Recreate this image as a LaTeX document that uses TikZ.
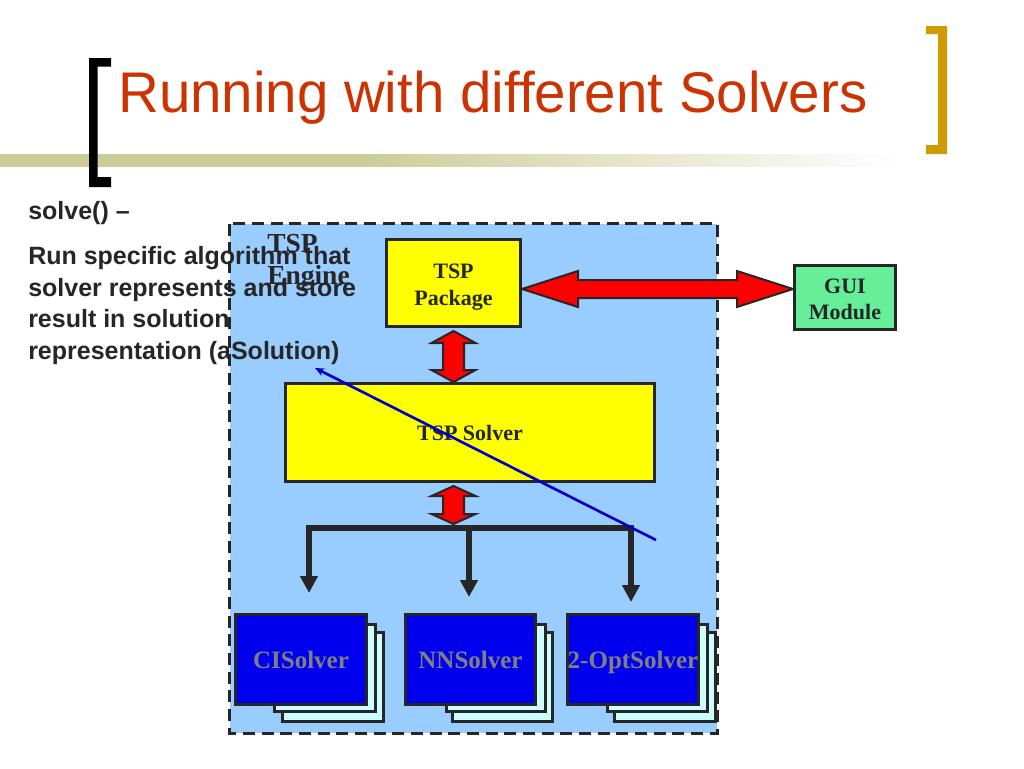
\documentclass[tikz,border=0pt]{standalone}
\usepackage{fontspec}
\setmainfont{Liberation Serif}
\newfontfamily\arialfont{Liberation Sans}
\usetikzlibrary{arrows.meta,calc}
\definecolor{titlered}{HTML}{CC3300}
\definecolor{gold}{HTML}{D09B00}
\definecolor{olive}{HTML}{CCCC99}
\definecolor{engblue}{HTML}{99CCFF}
\definecolor{boxline}{HTML}{262626}
\definecolor{yel}{HTML}{FFFF00}
\definecolor{guigreen}{HTML}{66EE99}
\definecolor{solvblue}{HTML}{0000EE}
\definecolor{cardcyan}{HTML}{CCFFFF}
\definecolor{txtgray}{HTML}{808080}
\definecolor{bodytext}{HTML}{262626}
\definecolor{linkblue}{HTML}{0000CC}
\pgfdeclarehorizontalshading{bandshade}{100bp}{color(0bp)=(olive); color(45bp)=(olive); color(75bp)=(white); color(100bp)=(white)}
\tikzset{droptip/.tip={Triangle[width=12.75pt,length=12.75pt]}}
\begin{document}
\begin{tikzpicture}[x=0.75pt,y=-0.75pt,
  box/.style={draw=boxline, line width=2.25pt, inner sep=0pt},
  lbl/.style={inner sep=0pt, text=boxline, font=\bfseries\fontsize{16.5pt}{20pt}\selectfont},
  bodytxt/.style={anchor=base west, inner sep=0pt, text=bodytext, font=\arialfont\bfseries\fontsize{18.75pt}{22pt}\selectfont},
  engtxt/.style={anchor=base west, inner sep=0pt, text=boxline, font=\bfseries\fontsize{20.6pt}{24pt}\selectfont},
  solverbox/.style={box, fill=solvblue, minimum height=67.5pt, text=txtgray, text depth=0pt, font=\bfseries\fontsize{18.75pt}{22pt}\selectfont},
  card/.style={draw=boxline, fill=cardcyan, line width=2.25pt},
  blockarrow/.style={fill=red, draw=boxline, line width=1.5pt, line join=miter},
  busline/.style={draw=boxline, line width=4.5pt, line join=miter}
]
\fill[white] (0,0) rectangle (1024,768);
\useasboundingbox (0,0) rectangle (1024,768);

% title band
\shade[shading=bandshade] (0,154) rectangle (900,166);

% brackets
\fill[black] (89,58) -- (111,58) -- (111,66.5) -- (97.5,66.5) -- (97.5,177) -- (111,177) -- (111,187) -- (89,187) -- cycle;
\fill[gold] (947,26) -- (926,26) -- (926,34) -- (938,34) -- (938,145) -- (926,145) -- (926,154) -- (947,154) -- cycle;

% title
\node[anchor=base west, inner sep=0pt, text=titlered, font=\arialfont\fontsize{43pt}{50pt}\selectfont, xscale=0.985] (title) at (118,112) {Running with different Solvers};

% engine area
\node[fill=engblue, minimum width=365.25pt, minimum height=381.75pt, inner sep=0pt] (engine) at (473.5,478.5) {};

% left text
\node[bodytxt] (s0) at (28,219) {solve() –};
\node[bodytxt] (s1) at (28,264) {Run specific algorithm that};
\node[bodytxt] (s2) at (28,296) {solver represents and store};
\node[bodytxt] (s3) at (28,327) {result in solution};
\node[bodytxt] (s4) at (28,359) {representation (aSolution)};

\draw[boxline, line width=2.25pt, dash pattern=on 9pt off 5pt] (engine.north west) rectangle (engine.south east);

\node[engtxt] (engT) at (267,252) {TSP};
\node[engtxt] (engE) at (267,284) {Engine};

% boxes
\node[box, fill=yel, minimum width=100.5pt, minimum height=65.25pt] (pkg) at (453.5,283) {};
\node[lbl, anchor=base] (pkgA) at ($(pkg.center)+(0,-5)$) {TSP};
\node[lbl, anchor=base] (pkgB) at ($(pkg.center)+(0,22)$) {Package};

\node[box, fill=guigreen, minimum width=75.75pt, minimum height=48pt] (gui) at (845,297.5) {};
\node[lbl, anchor=base] (guiA) at ($(gui.center)+(0,-4.5)$) {GUI};
\node[lbl, anchor=base] (guiB) at ($(gui.center)+(0,21.5)$) {Module};

\node[box, fill=yel, minimum width=276.75pt, minimum height=73.5pt] (solver) at (470,432.5) {};
\node[lbl, anchor=base] (solverT) at ($(solver.center)+(0,8)$) {TSP Solver};

% horizontal double arrow
\coordinate (hl) at ($(pkg.east)+(0,6)$);
\coordinate (hr) at (gui.west |- hl);
\draw[blockarrow] (hl) -- ++(56,-18) -- ++(0,9) -- ($(hr)+(-56,-9)$) -- ++(0,-9) -- (hr) -- ++(-56,18) -- ++(0,-9) -- ($(hl)+(56,9)$) -- ++(0,9) -- cycle;

% vertical double arrow 1
\coordinate (v1t) at ($(pkg.south)+(0,3)$);
\coordinate (v1b) at (v1t |- solver.north);
\draw[blockarrow] (v1t) -- ++(22,12) -- ++(-11.5,0) -- ($(v1b)+(10.5,-12)$) -- ++(11.5,0) -- (v1b) -- ++(-22,-12) -- ++(11.5,0) -- ($(v1t)+(-10.5,12)$) -- ++(-11.5,0) -- cycle;

% bus coordinates
\coordinate (bl) at (309,528);
\coordinate (br) at (631,528);
\coordinate (bm) at (469,528);
\coordinate (d1) at (309,593);
\coordinate (d2) at (469,597);
\coordinate (d3) at (631,602);

% vertical double arrow 2
\coordinate (v2t) at ($(v1t |- solver.south)+(0,3)$);
\coordinate (v2b) at ($(v1t |- bl)+(0,-4)$);
\draw[blockarrow] (v2t) -- ++(22,10) -- ++(-11.5,0) -- ($(v2b)+(10.5,-10)$) -- ++(11.5,0) -- (v2b) -- ++(-22,-10) -- ++(11.5,0) -- ($(v2t)+(-10.5,10)$) -- ++(-11.5,0) -- cycle;

% bus and drops
\draw[busline, {droptip}-{droptip}] (d1) -- (bl) -- (br) -- (d3);
\draw[busline, -{droptip}] (bm) -- (d2);

% solver stacks
\draw[card] (282.5,632.5) rectangle (383.5,721.5);
\draw[card] (274.5,624.5) rectangle (375.5,711.5);
\node[solverbox, minimum width=98.25pt] (ci) at (301,659.5) {CISolver};

\draw[card] (452.5,632.5) rectangle (552.5,721.5);
\draw[card] (446.5,624.5) rectangle (545.5,711.5);
\node[solverbox, minimum width=97.5pt] (nn) at (470.5,659.5) {NNSolver};

\draw[card] (614.5,632.5) rectangle (715.5,721.5);
\draw[card] (607.5,624.5) rectangle (707.5,711.5);
\node[solverbox, minimum width=96.75pt] (opt) at (633,659.5) {2-OptSolver};

% blue pointer line
\coordinate (bs) at (656,540);
\coordinate (be) at (315,368);
\draw[linkblue, line width=2pt, -{Stealth[length=7pt,width=6pt]}] (bs) -- (be);
\end{tikzpicture}
\end{document}
